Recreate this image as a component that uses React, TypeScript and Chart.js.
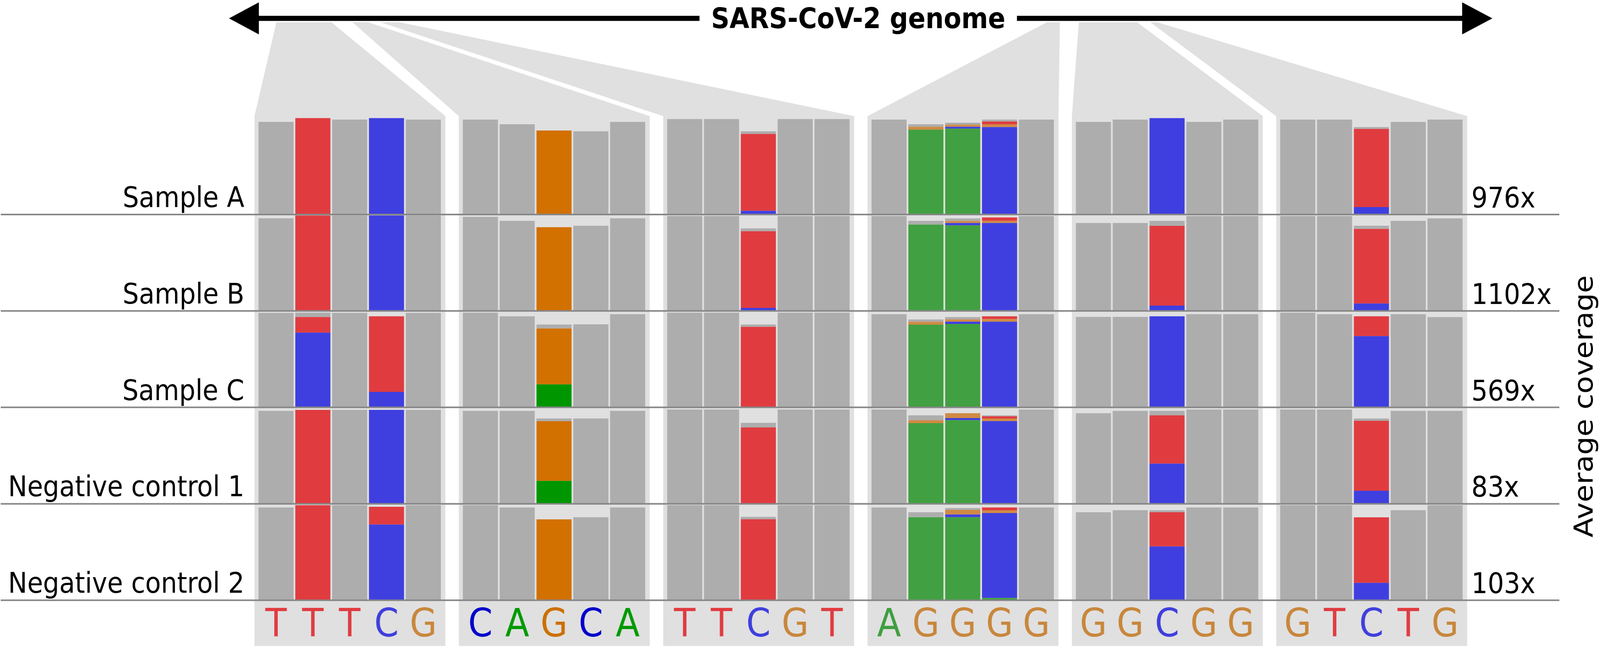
import React, { useEffect, useRef } from 'react';
import { Chart, registerables } from 'chart.js';

Chart.register(...registerables);

// ---------------- data ----------------
const SAMPLES = ['Sample A', 'Sample B', 'Sample C', 'Negative control 1', 'Negative control 2'];
const COVERAGE = ['976x', '1102x', '569x', '83x', '103x'];
const REF_SEQ = ['TTTCG', 'CAGCA', 'TTCGT', 'AGGGG', 'GGCGG', 'GTCTG'];
const TITLE = 'SARS-CoV-2 genome';
const AXIS_TITLE = 'Average coverage';

// relative read depth of every column (6 regions x 5 positions), one row per sample
const DEPTH_A = [0.96, 1.0, 0.985, 1.0, 0.985, 0.985, 0.936, 0.871, 0.863, 0.96, 0.99, 0.99, 0.863, 0.99, 0.99, 0.985, 0.936, 0.952, 0.985, 0.985, 0.96, 0.985, 1.0, 0.96, 0.985, 0.985, 0.985, 0.907, 0.96, 0.985];
const DEPTH_B = [0.96, 0.99, 0.99, 0.99, 0.99, 0.976, 0.934, 0.868, 0.884, 0.96, 0.985, 0.985, 0.856, 0.985, 0.985, 0.985, 0.934, 0.959, 0.97, 0.985, 0.912, 0.912, 0.934, 0.985, 0.985, 0.985, 0.985, 0.884, 0.934, 0.959];
const DEPTH_C = [0.98, 0.982, 0.98, 0.944, 0.98, 0.982, 0.944, 0.859, 0.861, 0.966, 0.982, 0.982, 0.859, 0.982, 0.982, 0.966, 0.912, 0.936, 0.944, 0.966, 0.938, 0.938, 0.944, 0.966, 0.966, 0.982, 0.966, 0.944, 0.966, 0.936];
const DEPTH_NC1 = [0.964, 0.974, 0.974, 0.974, 0.974, 0.964, 0.964, 0.885, 0.885, 0.964, 0.978, 0.978, 0.839, 0.978, 0.978, 0.978, 0.917, 0.94, 0.917, 0.978, 0.94, 0.964, 0.964, 0.978, 0.978, 0.978, 0.978, 0.885, 0.964, 0.964];
const DEPTH_NC2 = [0.962, 0.985, 0.985, 0.969, 0.985, 0.985, 0.962, 0.839, 0.861, 0.962, 0.985, 0.985, 0.865, 0.985, 0.985, 0.962, 0.912, 0.956, 0.962, 0.962, 0.912, 0.934, 0.934, 0.962, 0.962, 0.985, 0.985, 0.86, 0.934, 0.985];
const DEPTH = [DEPTH_A, DEPTH_B, DEPTH_C, DEPTH_NC1, DEPTH_NC2];

// columns that carry coloured (non-reference) bases
const VARIANT_COLS = [1, 3, 7, 12, 16, 17, 18, 22, 27];
// base fractions at those columns (rows = samples); the rest is reference (grey)
const FRAC_A = [
  [0, 0, 0, 0, 0.94, 0.935, 0, 0, 0],
  [0, 0, 0, 0, 0.96, 0.925, 0, 0, 0],
  [0, 0, 0.278, 0, 0.94, 0.925, 0, 0, 0],
  [0, 0, 0.268, 0, 0.912, 0.923, 0, 0, 0],
  [0, 0, 0, 0, 0.945, 0.9, 0.025, 0, 0],
];
const FRAC_C = [
  [0, 1, 0, 0.045, 0, 0.02, 0.92, 1, 0.085],
  [0, 1, 0, 0.037, 0, 0.026, 0.94, 0.06, 0.087],
  [0.79, 0.17, 0, 0, 0, 0.025, 0.942, 1, 0.783],
  [0, 1, 0, 0, 0, 0.023, 0.935, 0.433, 0.153],
  [0, 0.81, 0, 0, 0, 0.03, 0.915, 0.597, 0.21],
];
const FRAC_G = [
  [0, 0, 1, 0, 0.033, 0.025, 0.03, 0, 0],
  [0, 0, 1, 0, 0, 0.023, 0.023, 0, 0],
  [0, 0, 0.675, 0, 0.034, 0.025, 0.028, 0, 0],
  [0, 0, 0.7, 0, 0.034, 0.054, 0.03, 0, 0],
  [0, 0, 1, 0, 0, 0.05, 0.03, 0, 0],
];
const FRAC_T = [
  [1, 0, 0, 0.925, 0, 0, 0.03, 0, 0.895],
  [1, 0, 0, 0.93, 0, 0, 0.037, 0.885, 0.876],
  [0.165, 0.83, 0, 0.973, 0, 0, 0.03, 0, 0.217],
  [1, 0, 0, 0.944, 0, 0, 0.025, 0.519, 0.82],
  [1, 0.19, 0, 0.97, 0, 0, 0.03, 0.38, 0.79],
];

// ---------------- styles / layout ----------------
const W = 4562;
const H = 1661;
const UNIT_PX = 105;
const FIRST_CENTER_PX = 787;
const PANEL_STEP = 5.549;
const ROW_PX = 246.8;
const LAST_ROW_BOTTOM_PX = 1536.2;
const NROWS = SAMPLES.length;
const NPANELS = REF_SEQ.length;

const BAR_COLORS: Record<string, string> = { A: '#41a041', C: '#3f3fe0', G: '#d08a44', T: '#e03c40', ref: '#adadad' };
const BAR_COLORS_ALT: Record<string, string> = { A: '#009600', C: '#3f3fe0', G: '#d27000', T: '#e03c40', ref: '#adadad' };
const LETTER_COLORS: Record<string, string> = { A: '#3f9f3f', C: '#3f3fdd', G: '#c8873c', T: '#e03c40' };
const LETTER_COLORS_ALT: Record<string, string> = { A: '#009a00', C: '#0000cc', G: '#cc7000', T: '#e03c40' };
const PANEL_BG = '#e0e0e0';
const FUNNEL_TOPS = [
  [788, 945],
  [1005, 1050],
  [1085, 1140],
  [2985, 3022],
  [3076, 3242],
  [3280, 3300],
];
const FONT = '"DejaVu Sans", Verdana, sans-serif';

const xOf = (col: number) => Math.floor(col / 5) * PANEL_STEP + (col % 5);

function buildDatasets() {
  const seg: Record<string, any[]> = { A: [], C: [], G: [], T: [], ref: [] };
  const fracs: Record<string, number[][]> = { A: FRAC_A, C: FRAC_C, G: FRAC_G, T: FRAC_T };
  DEPTH.forEach((row, r) => {
    const base = NROWS - 1 - r;
    row.forEach((d, c) => {
      const vi = VARIANT_COLS.indexOf(c);
      const p = Math.floor(c / 5);
      let cum = 0;
      for (const b of ['A', 'C', 'G', 'T']) {
        const f = vi >= 0 ? fracs[b][r][vi] : 0;
        if (f > 0) {
          seg[b].push({ x: xOf(c), y: [base + cum * d, base + Math.min(1, cum + f) * d], p });
          cum += f;
        }
      }
      if (cum < 0.999) seg.ref.push({ x: xOf(c), y: [base + cum * d, base + d], p });
    });
  });
  return ['ref', 'A', 'C', 'G', 'T'].map((k) => ({
    label: k,
    data: seg[k],
    backgroundColor: (ctx: any) => (ctx.raw && ctx.raw.p === 1 ? BAR_COLORS_ALT[k] : BAR_COLORS[k]),
    borderWidth: 0,
    grouped: false,
    barPercentage: 100 / 105,
    categoryPercentage: 1,
  }));
}

const decor = {
  id: 'decor',
  beforeDatasetsDraw(chart: any) {
    const { ctx, scales } = chart;
    const x = scales.x;
    const y = scales.y;
    const panelTop = y.getPixelForValue(NROWS) - 5;
    const panelBottom = y.getPixelForValue(0) + 117;
    ctx.save();
    ctx.fillStyle = PANEL_BG;
    for (let p = 0; p < NPANELS; p++) {
      const l = x.getPixelForValue(p * PANEL_STEP - 0.585);
      const rr = x.getPixelForValue(p * PANEL_STEP + 4.6);
      const [t0, t1] = FUNNEL_TOPS[p];
      ctx.beginPath();
      ctx.moveTo(t0, 57);
      ctx.lineTo(t1, 57);
      ctx.lineTo(rr, panelTop);
      ctx.lineTo(rr, panelBottom);
      ctx.lineTo(l, panelBottom);
      ctx.lineTo(l, panelTop);
      ctx.closePath();
      ctx.fill();
    }
    // genome arrow
    const ay = 47;
    const left = 653;
    const right = 4255;
    ctx.fillStyle = '#000';
    ctx.fillRect(left + 80, ay - 6.5, right - left - 160, 13);
    ctx.beginPath();
    ctx.moveTo(left, ay);
    ctx.lineTo(left + 85, ay - 41);
    ctx.lineTo(left + 85, ay + 41);
    ctx.closePath();
    ctx.fill();
    ctx.beginPath();
    ctx.moveTo(right, ay);
    ctx.lineTo(right - 86, ay - 41);
    ctx.lineTo(right - 86, ay + 41);
    ctx.closePath();
    ctx.fill();
    ctx.font = `bold 73px ${FONT}`;
    const tw = ctx.measureText(TITLE).width;
    const cx = 2447;
    ctx.fillStyle = '#fff';
    ctx.fillRect(cx - tw / 2 - 33, ay - 12, tw + 66, 24);
    ctx.fillStyle = '#000';
    ctx.textAlign = 'center';
    ctx.textBaseline = 'alphabetic';
    ctx.fillText(TITLE, cx, 72);
    ctx.restore();
  },
  afterDatasetsDraw(chart: any) {
    const { ctx, scales } = chart;
    const x = scales.x;
    const y = scales.y;
    ctx.save();
    // row separators
    ctx.strokeStyle = '#868686';
    ctx.lineWidth = 4;
    for (let r = 0; r < NROWS; r++) {
      const py = y.getPixelForValue(NROWS - 1 - r);
      ctx.beginPath();
      ctx.moveTo(2, py);
      ctx.lineTo(4446, py);
      ctx.stroke();
    }
    // sample labels and coverage
    ctx.fillStyle = '#000';
    ctx.font = `73px ${FONT}`;
    ctx.textBaseline = 'alphabetic';
    const firstPanelLeft = x.getPixelForValue(-0.585);
    const lastPanelRight = x.getPixelForValue((NPANELS - 1) * PANEL_STEP + 4.6);
    for (let r = 0; r < NROWS; r++) {
      const py = y.getPixelForValue(NROWS - 1 - r);
      ctx.textAlign = 'right';
      ctx.fillText(SAMPLES[r], firstPanelLeft - 29, py - 19);
      ctx.textAlign = 'left';
      ctx.fillText(COVERAGE[r], lastPanelRight + 12, py - 18);
    }
    // reference letters
    ctx.font = `100px ${FONT}`;
    ctx.textAlign = 'center';
    const ly = y.getPixelForValue(0) + 93;
    REF_SEQ.forEach((seq, p) => {
      seq.split('').forEach((ch, i) => {
        ctx.fillStyle = (p === 1 ? LETTER_COLORS_ALT : LETTER_COLORS)[ch];
        ctx.fillText(ch, x.getPixelForValue(p * PANEL_STEP + i), ly);
      });
    });
    // right axis title
    ctx.save();
    ctx.translate(4541, 1040);
    ctx.rotate(-Math.PI / 2);
    ctx.fillStyle = '#000';
    ctx.font = `74px ${FONT}`;
    ctx.textAlign = 'center';
    ctx.textBaseline = 'alphabetic';
    ctx.fillText(AXIS_TITLE, 0, 0);
    ctx.restore();
    ctx.restore();
  },
};

export default function App() {
  const ref = useRef<HTMLCanvasElement>(null);
  const hasWin = typeof window !== 'undefined';
  const kx = hasWin && window.innerWidth ? window.innerWidth / W : 1;
  const ky = hasWin && window.innerHeight ? window.innerHeight / H : 1;
  useEffect(() => {
    document.body.style.margin = '0';
    document.body.style.overflow = 'hidden';
    document.body.style.background = '#fff';
    const xMin = -FIRST_CENTER_PX / UNIT_PX;
    const xMax = xMin + W / UNIT_PX;
    const yMax = LAST_ROW_BOTTOM_PX / ROW_PX;
    const yMin = -(H - LAST_ROW_BOTTOM_PX) / ROW_PX;
    const dpr = hasWin ? window.devicePixelRatio || 1 : 1;
    const chart = new Chart(ref.current as HTMLCanvasElement, {
      type: 'bar',
      data: { datasets: buildDatasets() as any },
      options: {
        animation: false,
        responsive: false,
        maintainAspectRatio: false,
        devicePixelRatio: Math.max(1, dpr * Math.max(kx, ky)),
        events: [],
        layout: { padding: 0 },
        plugins: { legend: { display: false }, tooltip: { enabled: false } },
        scales: {
          x: { type: 'linear', display: false, min: xMin, max: xMax, offset: false, bounds: 'data', grid: { display: false } },
          y: { type: 'linear', display: false, min: yMin, max: yMax, bounds: 'data', grid: { display: false } },
        },
      },
      plugins: [decor],
    } as any);
    return () => chart.destroy();
  }, []);
  return (
    <div style={{ width: W * kx, height: H * ky, overflow: 'hidden', background: '#fff' }}>
      <div style={{ width: W, height: H, transform: `scale(${kx}, ${ky})`, transformOrigin: '0 0' }}>
        <canvas ref={ref} width={W} height={H} style={{ display: 'block', width: W, height: H }} />
      </div>
    </div>
  );
}
